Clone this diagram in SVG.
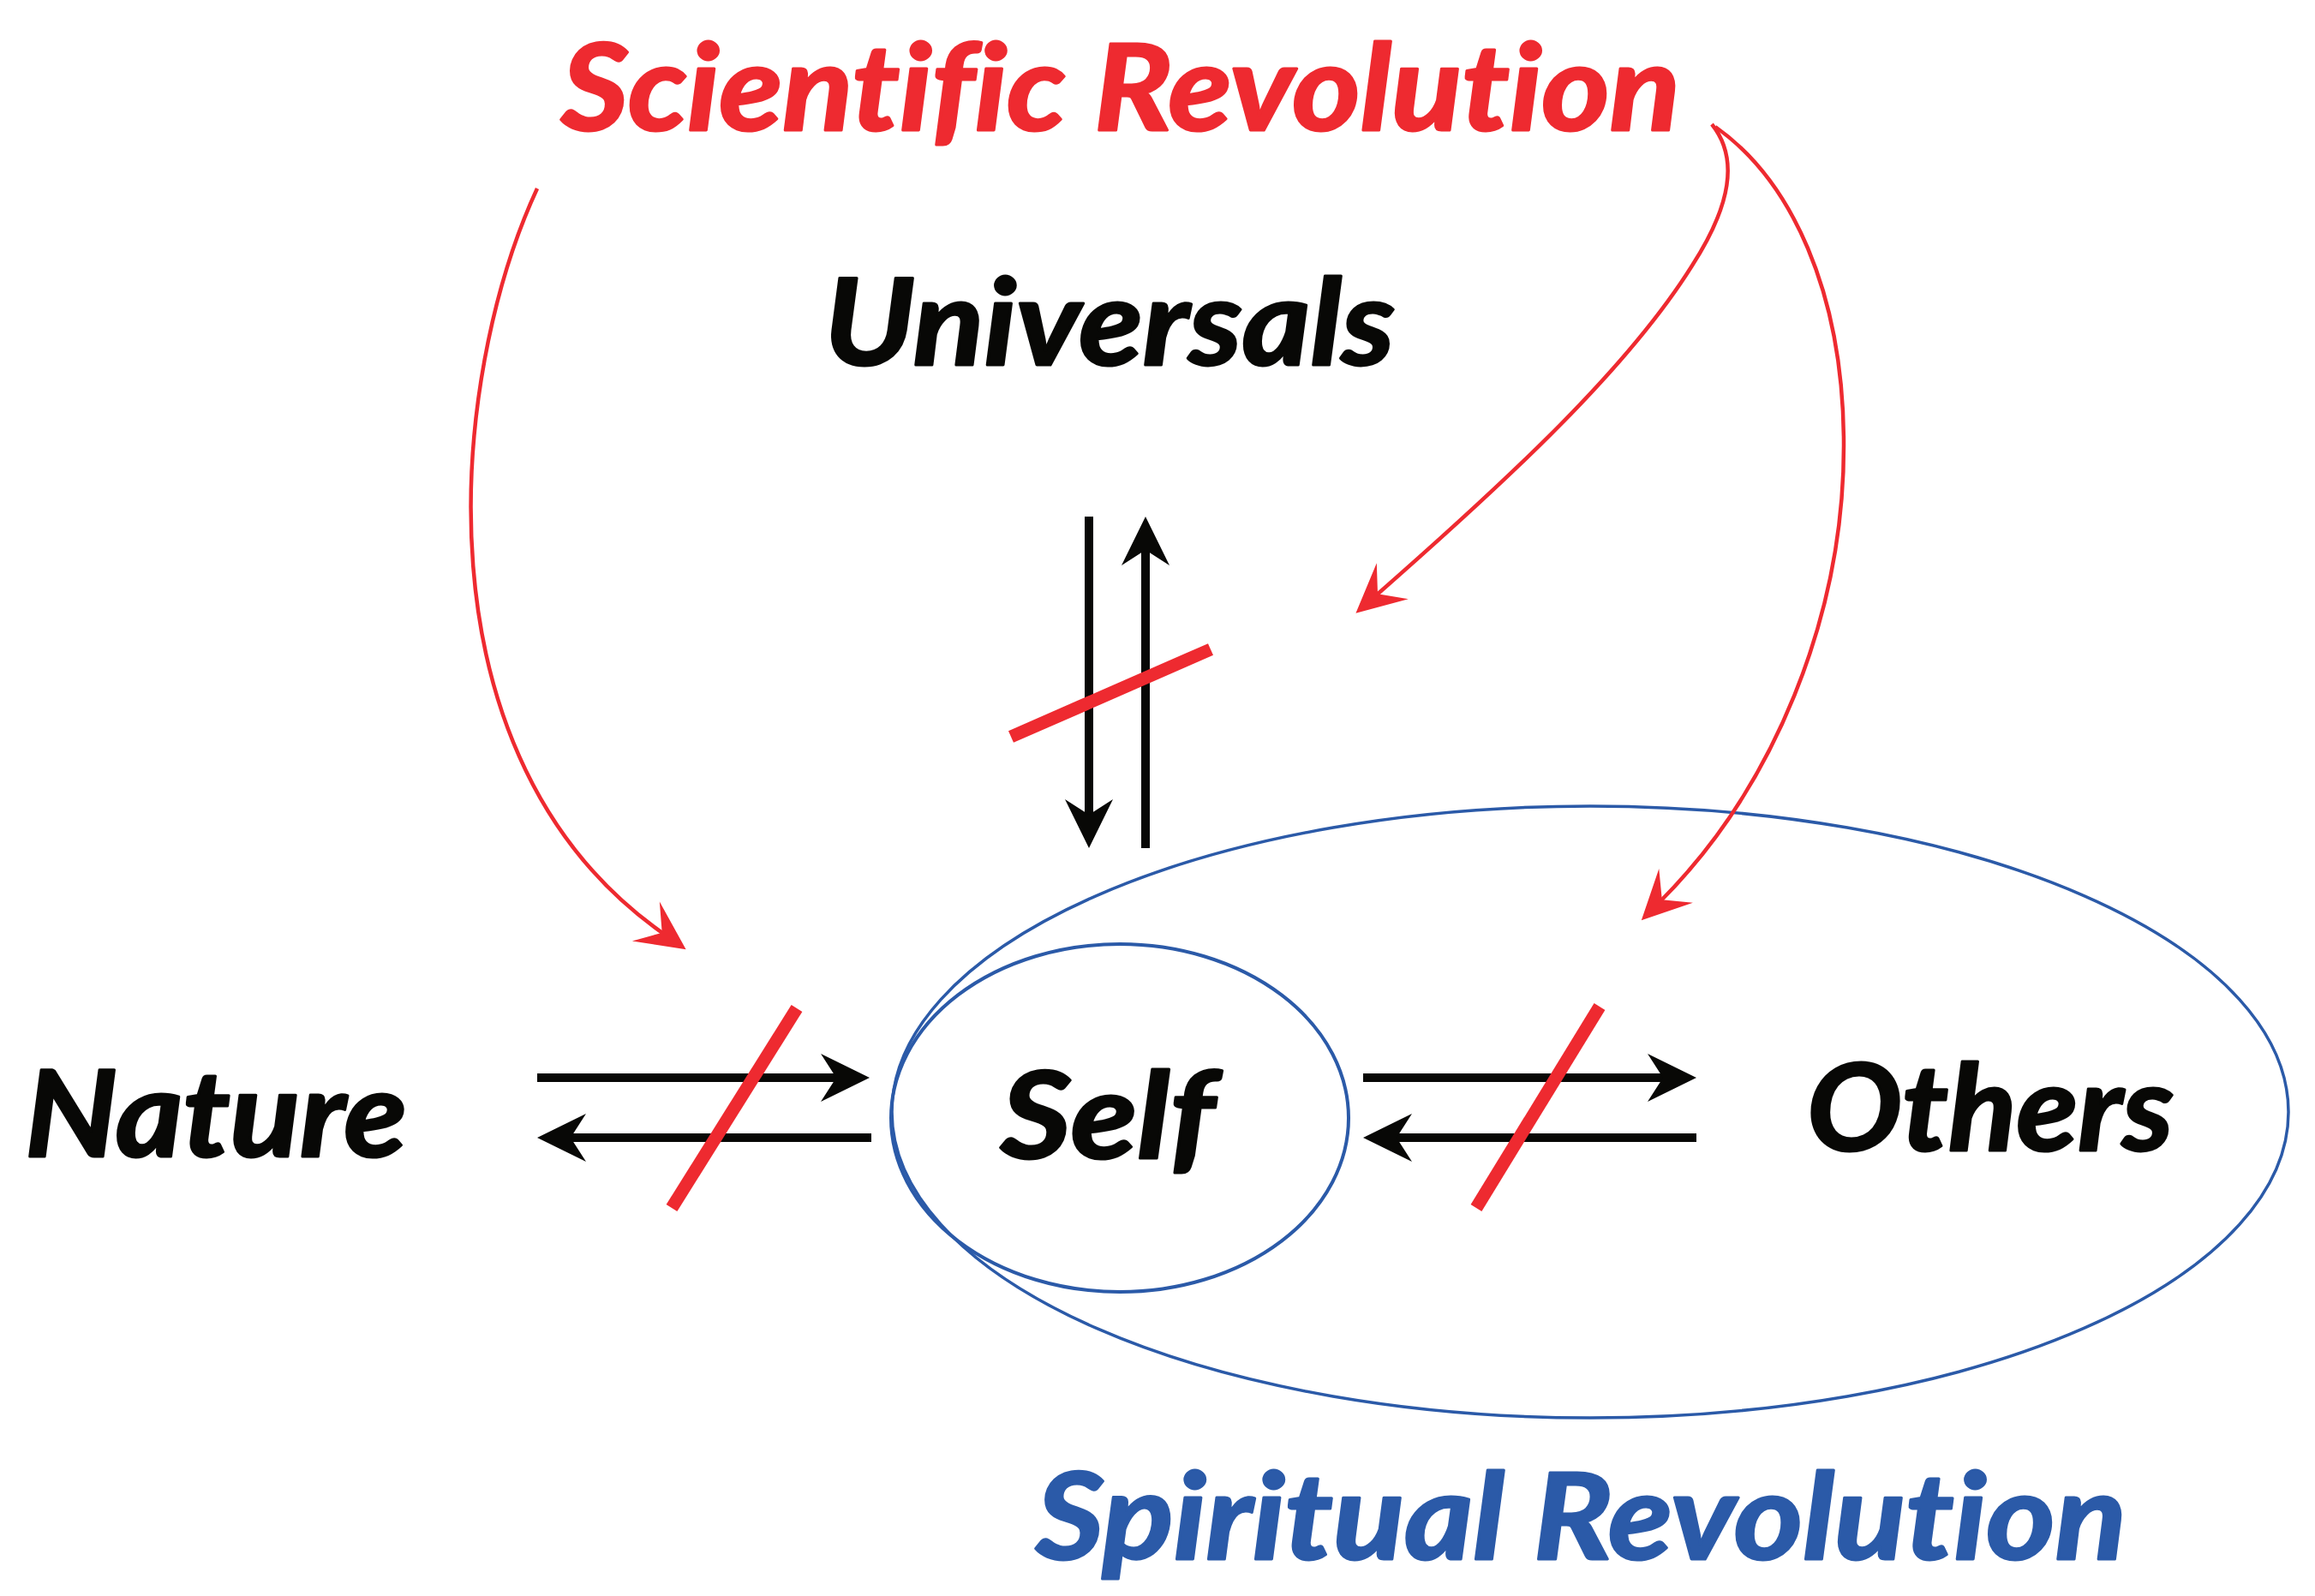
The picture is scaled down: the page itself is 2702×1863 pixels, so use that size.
<svg xmlns="http://www.w3.org/2000/svg" width="2702" height="1863" viewBox="0 0 2702 1863">
<style>
.lbl{font-family:Lato,"Open Sans","Liberation Sans",sans-serif;font-weight:bold;font-style:italic;font-size:140px;font-variant-ligatures:none;font-feature-settings:"liga" 0,"clig" 0;stroke-width:3;stroke-linejoin:round}
.blk{fill:#080806;stroke:#080806}
.red{fill:#EE2A30;stroke:#EE2A30}
.blu{fill:#2B5AA8;stroke:#2B5AA8}
.arr{stroke:#080806;stroke-width:10;fill:none}
.rc{stroke:#EE2A30;stroke-width:4.5;fill:none}
.slash{stroke:#EE2A30;stroke-width:15;fill:none}
.ell{fill:none;stroke:#2B5AA8}
</style>
<defs>
<marker id="bh" markerUnits="userSpaceOnUse" orient="auto" refX="-39" refY="0" markerWidth="120" markerHeight="120" overflow="visible">
<path d="M0,0 L-57,-28 L-39,0 L-57,28 Z" fill="#080806"/>
</marker>
<marker id="rh" markerUnits="userSpaceOnUse" orient="auto" refX="-30" refY="0" markerWidth="120" markerHeight="120" overflow="visible">
<path d="M0,0 L-57,-28 L-34,0 L-57,28 Z" fill="#EE2A30"/>
</marker>
</defs>
<rect width="2702" height="1863" fill="#fff"/>

<g id="spiritual-revolution">
<ellipse class="ell" cx="1856" cy="1298" rx="815" ry="357" stroke-width="3.5"/>
<text class="lbl blu" x="1209" y="1820" textLength="1273" lengthAdjust="spacingAndGlyphs">Spiritual Revolution</text>
</g>

<g id="self">
<ellipse class="ell" cx="1307" cy="1305" rx="267" ry="203" stroke-width="4"/>
<text class="lbl blk" x="1168" y="1352" textLength="250" lengthAdjust="spacingAndGlyphs">Self</text>
</g>

<g id="scientific-revolution">
<text class="lbl red" x="655" y="152" textLength="1306" lengthAdjust="spacingAndGlyphs">Scientific Revolution</text>
</g>

<g id="universals">
<text class="lbl blk" x="962" y="426" textLength="666" lengthAdjust="spacingAndGlyphs">Universals</text>
</g>

<g id="nature">
<text class="lbl blk" x="29" y="1350" textLength="446" lengthAdjust="spacingAndGlyphs">Nature</text>
</g>

<g id="others">
<text class="lbl blk" x="2109" y="1343" textLength="428" lengthAdjust="spacingAndGlyphs">Others</text>
</g>

<g id="connectors">
<path class="arr" d="M627,1258 H976" marker-end="url(#bh)"/>
<path class="arr" d="M1017,1328 H666" marker-end="url(#bh)"/>
<path class="arr" d="M1591,1258 H1941" marker-end="url(#bh)"/>
<path class="arr" d="M1980,1328 H1630" marker-end="url(#bh)"/>
<path class="arr" d="M1271,603 V951" marker-end="url(#bh)"/>
<path class="arr" d="M1337,990 V642" marker-end="url(#bh)"/>
<path class="rc" d="M627,220 C525,440 480,885 776,1091" marker-end="url(#rh)"/>
<path class="rc" d="M1998,145 C2030,185 2020,240 1975,310 C1900,430 1760,560 1605,696" marker-end="url(#rh)"/>
<path class="rc" d="M2002,148 C2090,210 2152,340 2152,520 C2152,720 2070,920 1937,1053" marker-end="url(#rh)"/>
<line class="slash" x1="930" y1="1177" x2="784" y2="1410"/>
<line class="slash" x1="1867" y1="1175" x2="1723" y2="1410"/>
<line class="slash" x1="1180" y1="860" x2="1413" y2="758"/>
</g>
</svg>
